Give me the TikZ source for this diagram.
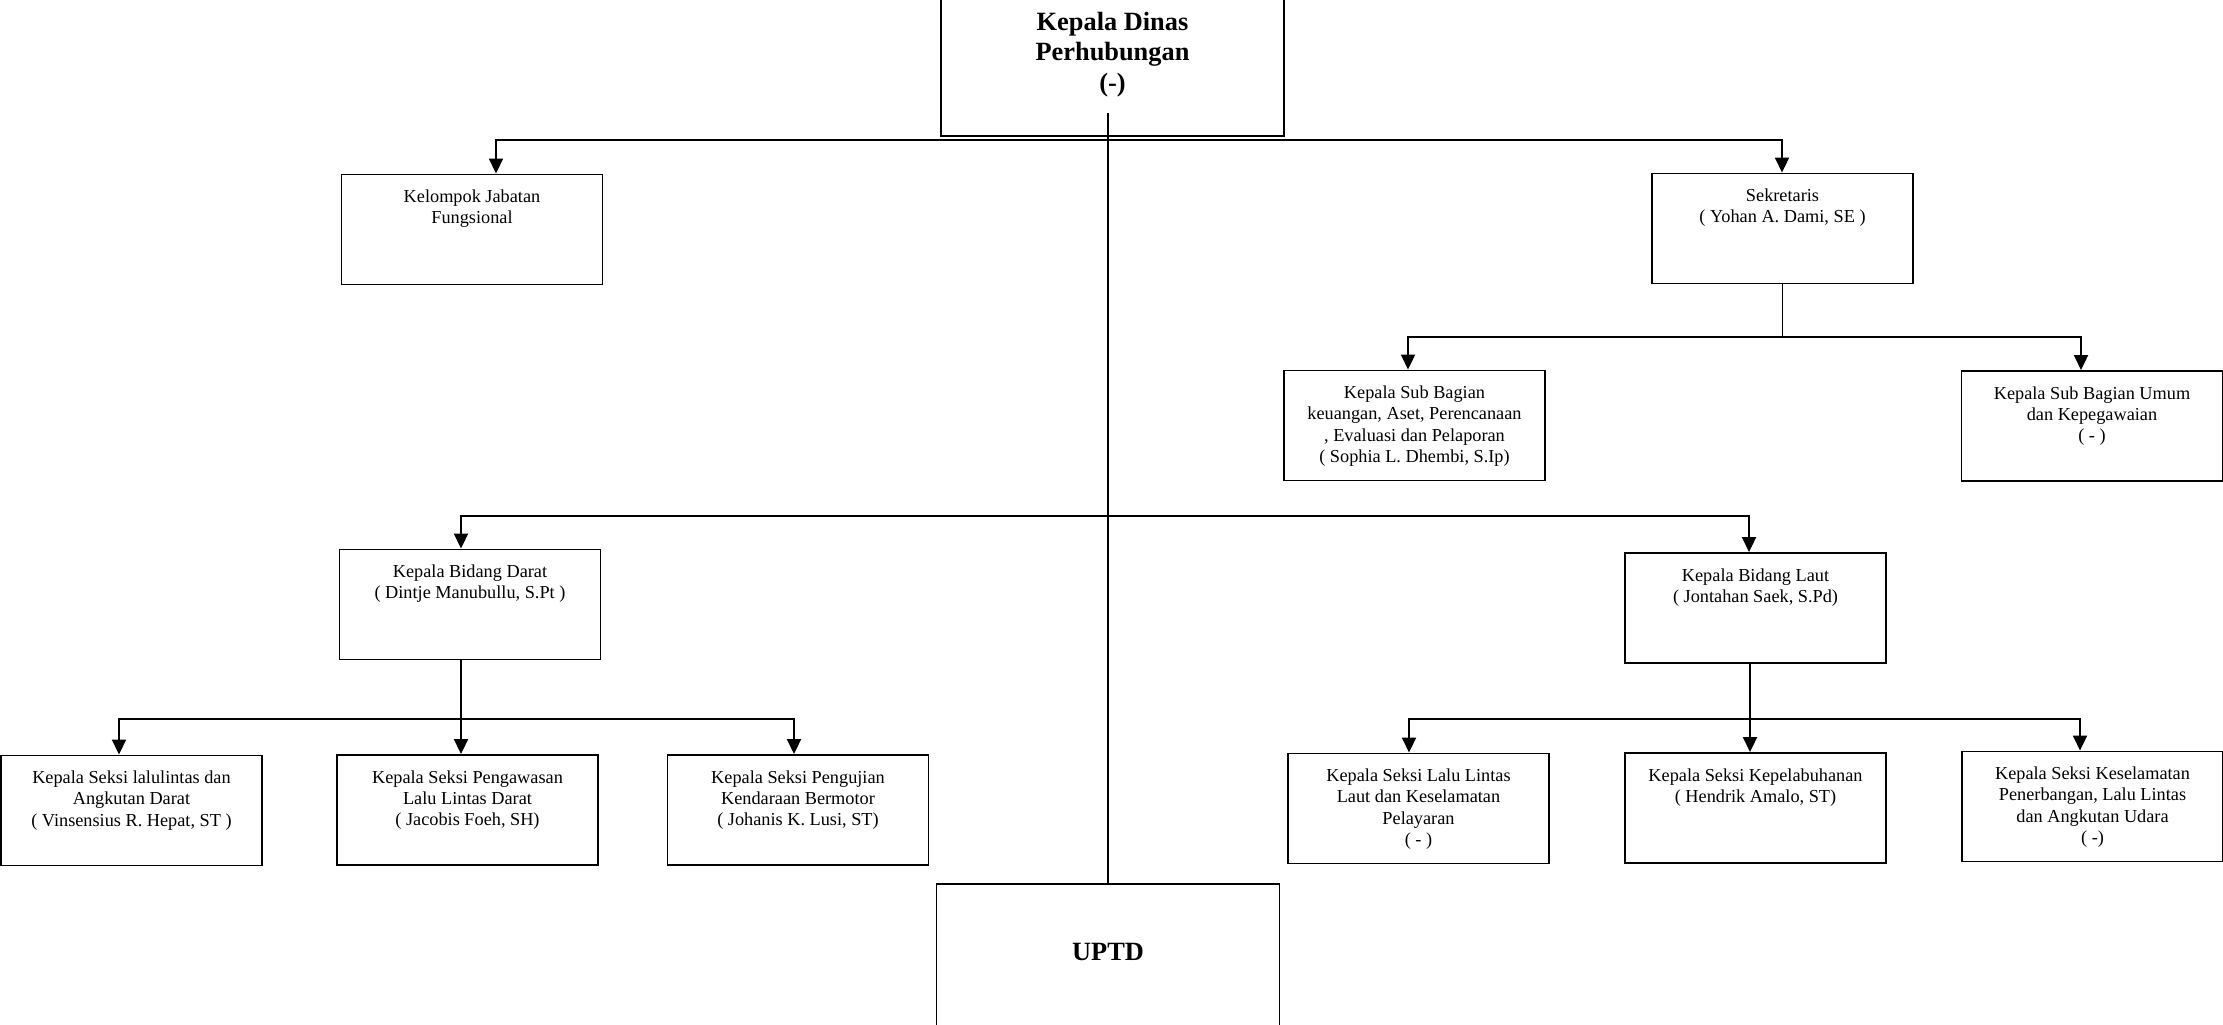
\documentclass[tikz,border=0pt]{standalone}
\usepackage{fontspec}
\setmainfont{Liberation Serif}
\usetikzlibrary{arrows.meta, positioning}

\begin{document}
\begin{tikzpicture}[>={Triangle[length=0.3cm, width=0.28cm]}, line width=1.1pt,
    unit/.style={draw, inner sep=0pt, font=\fontsize{10.4}{12.1}\selectfont,
        execute at begin node={\begin{minipage}[t][2.2cm][t]{5.22cm}\centering\vspace{8.8pt}},
        execute at end node={\end{minipage}}},
    chief/.style={draw, minimum width=6.86cm, align=center, font=\fontsize{15}{17.3}\selectfont\bfseries}]
    \useasboundingbox (0,0) rectangle (44.46,-20.48);

    % Kepala Dinas and UPTD
    \node[chief, minimum height=3.26cm] (kadis) at (22.25,-1.09) {Kepala Dinas\\Perhubungan\\(-)};
    \node[chief, inner sep=0pt, text height=1.54cm, text depth=2cm, anchor=north] (uptd) at (22.16,-17.66) {UPTD};
    \coordinate (trunk) at (22.16,-2.26);
    \draw (trunk) -- (uptd.north);

    % First row
    \node[unit] (kjf) at (9.44,-4.59) {Kelompok Jabatan\\Fungsional};
    \node[unit] (sek) at (35.65,-4.57) {Sekretaris\\( Yohan A. Dami, SE )};
    \coordinate (k1) at (9.92,-2.80);
    \coordinate (k2) at (35.64,-2.80);
    \draw[<->] (k1 |- kjf.north) -- (k1) -- (k2) -- (k2 |- sek.north);

    % Sub bagian
    \node[unit] (ksbk) at (28.29,-8.51) {Kepala Sub Bagian\\keuangan, Aset, Perencanaan\\, Evaluasi dan Pelaporan\\( Sophia L. Dhembi, S.Ip)};
    \node[unit] (ksbu) at (41.84,-8.52) {Kepala Sub Bagian Umum\\dan Kepegawaian\\( - )};
    \coordinate (s1) at (28.16,-6.74);
    \coordinate (s2) at (41.62,-6.74);
    \draw (sek.south) -- (sek.south |- s1);
    \draw[<->] (s1 |- ksbk.north) -- (s1) -- (s2) -- (s2 |- ksbu.north);

    % Bidang
    \node[unit] (kbd) at (9.40,-12.09) {Kepala Bidang Darat\\( Dintje Manubullu, S.Pt )};
    \node[unit] (kbl) at (35.11,-12.16) {Kepala Bidang Laut\\( Jontahan Saek, S.Pd)};
    \coordinate (m1) at (9.22,-10.32);
    \coordinate (m2) at (34.98,-10.32);
    \draw[<->] (m1 |- kbd.north) -- (m1) -- (m2) -- (m2 |- kbl.north);

    % Seksi bidang darat
    \node[unit] (b1) at (2.63,-16.21) {Kepala Seksi lalulintas dan\\Angkutan Darat\\( Vinsensius R. Hepat, ST )};
    \node[unit] (b2) at (9.35,-16.20) {Kepala Seksi Pengawasan\\Lalu Lintas Darat\\( Jacobis Foeh, SH)};
    \node[unit] (b3) at (15.96,-16.20) {Kepala Seksi Pengujian\\Kendaraan Bermotor\\( Johanis K. Lusi, ST)};
    \coordinate (d1) at (2.38,-14.38);
    \coordinate (d2) at (9.22,-14.38);
    \coordinate (d3) at (15.88,-14.38);
    \draw (kbd.south -| d2) -- (d2);
    \draw[<->] (d1 |- b1.north) -- (d1) -- (d3) -- (d3 |- b3.north);
    \draw[->] (d2) -- (d2 |- b2.north);

    % Seksi bidang laut
    \node[unit] (b4) at (28.37,-16.17) {Kepala Seksi Lalu Lintas\\Laut dan Keselamatan\\Pelayaran\\( - )};
    \node[unit] (b5) at (35.11,-16.16) {Kepala Seksi Kepelabuhanan\\( Hendrik Amalo, ST)};
    \node[unit] (b6) at (41.85,-16.13) {Kepala Seksi Keselamatan\\Penerbangan, Lalu Lintas\\dan Angkutan Udara\\( -)};
    \coordinate (l1) at (28.18,-14.38);
    \coordinate (l2) at (35.00,-14.38);
    \coordinate (l3) at (41.60,-14.38);
    \draw (kbl.south -| l2) -- (l2);
    \draw[<->] (l1 |- b4.north) -- (l1) -- (l3) -- (l3 |- b6.north);
    \draw[->] (l2) -- (l2 |- b5.north);
\end{tikzpicture}
\end{document}
